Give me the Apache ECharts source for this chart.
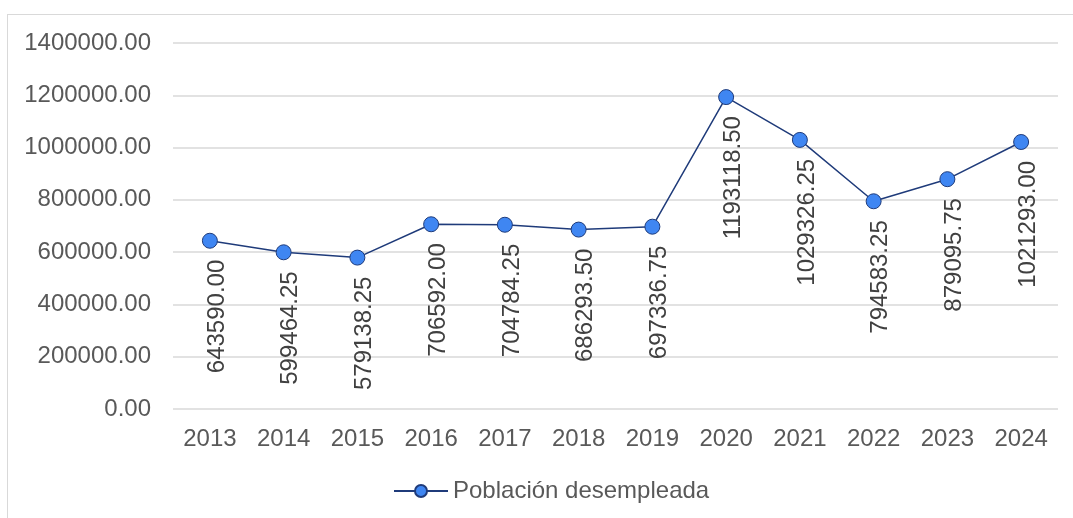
<!DOCTYPE html>
<html>
<head>
<meta charset="utf-8">
<script src="https://cdn.jsdelivr.net/npm/echarts@6/dist/echarts.min.js"></script>
<style>
html,body{margin:0;padding:0;background:#fff;}
#frame{position:absolute;left:7px;top:14px;width:1080px;height:520px;border:1.5px solid #d9d9d9;box-sizing:border-box;}
#chart{position:absolute;left:0;top:0;width:1073px;height:518px;}
</style>
</head>
<body>
<div id="frame"></div>
<div id="chart"></div>
<script>
const years = ['2013','2014','2015','2016','2017','2018','2019','2020','2021','2022','2023','2024'];
const desempleada = [643590.00, 599464.25, 579138.25, 706592.00, 704784.25, 686293.50, 697336.75, 1193118.50, 1029326.25, 794583.25, 879095.75, 1021293.00];
const seriesName = 'Población desempleada';

const chart = echarts.init(document.getElementById('chart'), null, {renderer:'canvas'});
const fontFam = '"Liberation Sans", Arial, sans-serif';
chart.setOption({
  animation:false,
  backgroundColor:'transparent',
  grid:{left:173, right:15, top:43, bottom:109, containLabel:false},
  xAxis:{
    type:'category', data:years, boundaryGap:true,
    axisLine:{show:false}, axisTick:{show:false},
    axisLabel:{color:'#595959', fontSize:24, fontFamily:fontFam, margin:18}
  },
  yAxis:{
    type:'value', min:0, max:1400000, interval:200000,
    axisLine:{show:false}, axisTick:{show:false},
    splitLine:{lineStyle:{color:'#d9d9d9', width:1.5}},
    axisLabel:{color:'#595959', fontSize:24, fontFamily:fontFam, margin:22,
      formatter:v=>v.toFixed(2)}
  },
  legend:{
    data:[seriesName], left:388, top:474, itemWidth:54, itemHeight:15, itemGap:5,
    textStyle:{color:'#595959', fontSize:24, fontFamily:fontFam}
  },
  series:[{
    name:seriesName, type:'line', data:desempleada,
    symbol:'circle', symbolSize:15,
    lineStyle:{color:'#1f3b7a', width:1.5},
    itemStyle:{color:'#3f86f2', borderColor:'#1f3b7a', borderWidth:1},
    label:{
      show:true, position:'bottom', distance:11, rotate:90,
      align:'right', verticalAlign:'middle',
      color:'#404040', fontSize:24, fontFamily:fontFam,
      offset:[0,7],
      formatter:p=>p.value.toFixed(2)
    }
  }]
});
</script>
</body>
</html>
